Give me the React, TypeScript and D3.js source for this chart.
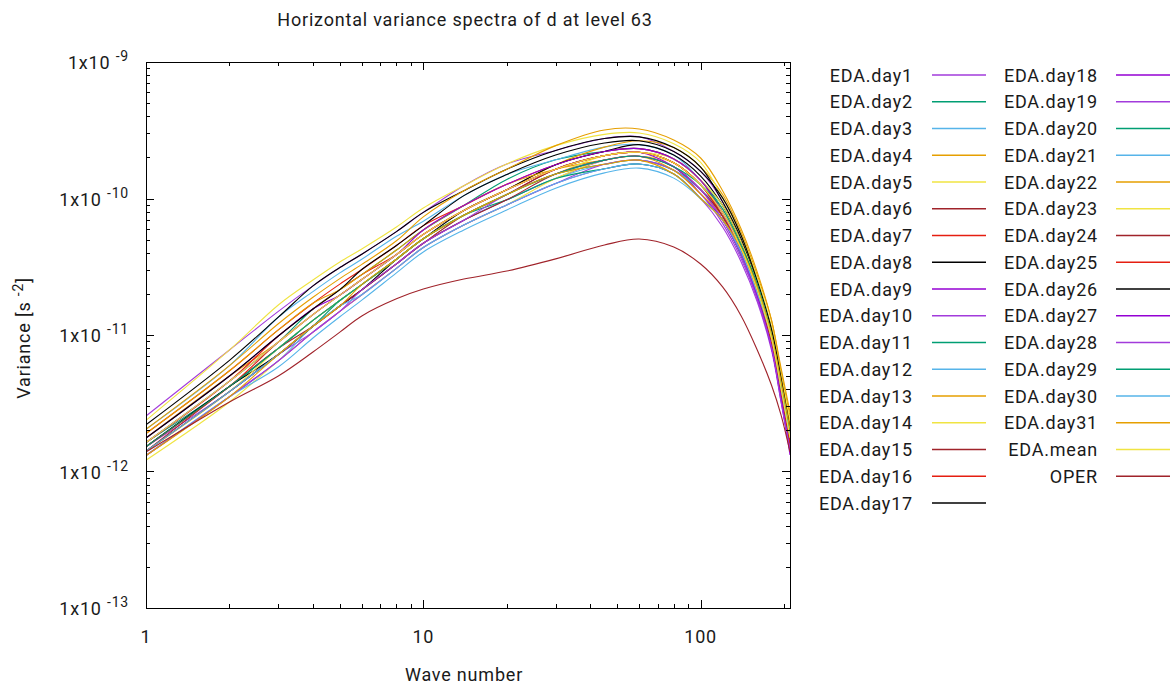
import { useEffect, useRef } from 'react';
import * as d3 from 'd3';

const waveNumbers = [1, 2, 3, 4, 5, 6, 8, 10, 14, 20, 30, 45, 60, 80, 100, 120, 140, 160, 180, 195, 210];

// variance values in units of 1e-12 s^-2, one entry per wave number above
const day1 = [2.55, 7.77, 14.9, 22.9, 31.2, 39.1, 57.2, 79.1, 124, 179, 225, 275, 283, 221, 158, 94.6, 47.9, 23.6, 10.0, 4.30, 1.90];
const day2 = [1.63, 4.59, 8.86, 15.5, 21.5, 27.7, 41.9, 58.8, 88.9, 138, 192, 221, 232, 195, 136, 83.8, 45.3, 21.4, 9.51, 4.06, 1.77];
const day3 = [2.04, 5.97, 13.5, 20.8, 28.5, 35.9, 52.9, 68.2, 105, 150, 192, 238, 248, 208, 136, 89.0, 47.9, 24.9, 11.1, 4.83, 2.19];
const day4 = [1.76, 5.01, 8.86, 14.1, 19.6, 25.5, 38.8, 54.6, 81.8, 116, 177, 238, 265, 236, 170, 107, 56.5, 27.5, 12.9, 5.41, 2.54];
const day5 = [2.37, 7.77, 16.6, 25.3, 34.3, 42.7, 61.8, 85.2, 124, 179, 244, 295, 302, 252, 184, 101, 53.5, 26.2, 11.6, 5.11, 2.36];
const day6 = [1.52, 4.20, 7.98, 12.8, 17.9, 23.4, 35.9, 50.7, 75.3, 107, 164, 206, 218, 183, 126, 78.8, 42.8, 20.3, 9.04, 3.84, 1.64];
const day7 = [1.90, 5.47, 10.9, 17.1, 23.6, 30.2, 45.3, 63.3, 88.9, 127, 177, 221, 232, 195, 136, 78.8, 42.8, 21.4, 9.51, 4.06, 1.64];
const day8 = [2.20, 6.52, 13.5, 22.9, 31.2, 39.1, 57.2, 79.1, 114, 164, 225, 275, 283, 236, 170, 94.6, 50.6, 23.6, 10.5, 4.56, 2.04];
const day9 = [1.41, 3.85, 7.19, 11.6, 16.3, 21.4, 33.2, 47.0, 69.3, 97.8, 140, 191, 204, 171, 108, 69.8, 38.3, 18.4, 8.17, 3.42, 1.53];
const day10 = [1.52, 3.85, 7.19, 10.5, 14.9, 19.7, 30.8, 43.7, 63.9, 89.8, 129, 165, 179, 151, 100, 61.8, 34.3, 17.5, 7.77, 3.23, 1.42];
const day11 = [1.63, 4.20, 7.98, 12.8, 17.9, 23.4, 35.9, 50.7, 75.3, 107, 151, 178, 191, 161, 116, 74.2, 40.5, 21.4, 9.51, 4.06, 1.77];
const day12 = [1.31, 3.53, 6.47, 11.6, 16.3, 21.4, 33.2, 47.0, 69.3, 97.8, 140, 178, 191, 161, 116, 78.8, 42.8, 22.5, 10.0, 4.56, 1.90];
const day13 = [2.04, 5.97, 12.1, 18.9, 25.9, 32.9, 49.0, 73.4, 114, 164, 244, 318, 323, 268, 198, 114, 59.8, 28.9, 12.9, 5.73, 2.73];
const day14 = [1.21, 3.23, 6.47, 10.5, 14.9, 19.7, 30.8, 43.7, 63.9, 89.8, 140, 191, 204, 183, 126, 83.8, 45.3, 23.6, 10.5, 4.83, 2.04];
const day15 = [1.41, 4.20, 7.98, 11.6, 16.3, 21.4, 33.2, 47.0, 75.3, 107, 164, 206, 218, 183, 126, 74.2, 40.5, 19.3, 8.59, 3.62, 1.53];
const day16 = [1.63, 4.59, 9.83, 15.5, 21.5, 27.7, 38.8, 54.6, 81.8, 116, 164, 206, 218, 183, 126, 74.2, 40.5, 20.3, 9.04, 3.62, 1.53];
const day17 = [1.52, 4.20, 7.19, 11.6, 16.3, 21.4, 35.9, 50.7, 81.8, 116, 177, 221, 248, 208, 146, 89.0, 47.9, 22.5, 10.0, 4.30, 1.77];
const day18 = [1.76, 5.01, 9.83, 15.5, 19.6, 25.5, 38.8, 54.6, 81.8, 116, 164, 206, 218, 171, 116, 69.8, 38.3, 19.3, 8.17, 3.42, 1.42];
const day19 = [1.31, 3.53, 6.47, 10.5, 14.9, 19.7, 30.8, 43.7, 63.9, 89.8, 129, 178, 191, 161, 108, 65.7, 36.2, 18.4, 8.17, 3.42, 1.42];
const day20 = [1.41, 3.85, 7.19, 11.6, 17.9, 23.4, 35.9, 50.7, 75.3, 97.8, 140, 165, 179, 151, 100, 69.8, 38.3, 20.3, 9.04, 3.84, 1.64];
const day21 = [1.31, 3.53, 5.83, 9.51, 13.6, 18.0, 28.5, 40.6, 58.8, 82.4, 119, 154, 167, 141, 100, 69.8, 40.5, 21.4, 10.0, 4.30, 1.77];
const day22 = [1.90, 5.47, 10.9, 17.1, 21.5, 27.7, 41.9, 58.8, 88.9, 127, 164, 191, 204, 161, 108, 74.2, 42.8, 22.5, 10.5, 4.56, 2.19];
const day23 = [1.41, 3.85, 7.98, 12.8, 17.9, 23.4, 35.9, 50.7, 75.3, 107, 151, 206, 218, 195, 136, 89.0, 47.9, 23.6, 10.5, 4.56, 1.90];
const day24 = [1.41, 3.85, 7.19, 11.6, 16.3, 21.4, 33.2, 47.0, 69.3, 97.8, 151, 191, 204, 171, 116, 74.2, 40.5, 20.3, 9.04, 3.84, 1.64];
const day25 = [1.52, 4.20, 8.86, 14.1, 19.6, 25.5, 38.8, 54.6, 81.8, 116, 164, 206, 218, 183, 126, 78.8, 42.8, 20.3, 9.04, 3.84, 1.64];
const day26 = [1.76, 5.01, 9.83, 15.5, 21.5, 30.2, 45.3, 63.3, 105, 150, 208, 255, 265, 221, 158, 101, 53.5, 24.9, 11.1, 4.83, 2.04];
const day27 = [1.63, 4.59, 8.86, 14.1, 19.6, 25.5, 38.8, 58.8, 88.9, 127, 177, 221, 232, 195, 136, 78.8, 40.5, 19.3, 8.17, 3.42, 1.32];
const day28 = [1.31, 3.53, 6.47, 10.5, 14.9, 21.4, 33.2, 47.0, 69.3, 107, 151, 191, 204, 171, 116, 69.8, 38.3, 18.4, 8.17, 3.23, 1.42];
const day29 = [1.52, 4.20, 7.98, 12.8, 17.9, 23.4, 35.9, 50.7, 75.3, 107, 151, 191, 204, 171, 126, 83.8, 45.3, 23.6, 10.0, 4.30, 1.90];
const day30 = [1.41, 3.85, 7.19, 11.6, 16.3, 19.7, 30.8, 43.7, 63.9, 89.8, 129, 165, 179, 151, 100, 69.8, 40.5, 20.3, 9.51, 4.06, 1.77];
const day31 = [1.31, 3.53, 7.19, 11.6, 16.3, 23.4, 35.9, 50.7, 75.3, 107, 151, 178, 191, 151, 100, 69.8, 42.8, 22.5, 10.0, 4.56, 2.04];
const edaMean = [1.63, 4.59, 8.86, 14.1, 19.6, 25.5, 38.8, 54.6, 81.8, 116, 164, 206, 218, 183, 126, 78.8, 42.8, 21.4, 9.51, 4.06, 1.77];
const oper = [1.39, 3.23, 5.01, 7.51, 10.5, 13.8, 18.4, 21.7, 25.7, 29.4, 36.1, 45.6, 50.5, 44.1, 33.1, 22.5, 13.8, 7.77, 4.30, 2.59, 1.39];

const seriesValues = [
  day1, day2, day3, day4, day5, day6, day7, day8, day9, day10, day11, day12, day13, day14, day15, day16,
  day17, day18, day19, day20, day21, day22, day23, day24, day25, day26, day27, day28, day29, day30, day31,
  edaMean, oper,
];
const seriesNames = [
  ...d3.range(1, 32).map(d => `EDA.day${d}`),
  'EDA.mean',
  'OPER',
];

// 9-colour cycle, day0 would take the first one
const palette = ['#9400d3', '#a23bdb', '#009e73', '#56b4e9', '#e69f00', '#f0e442', '#a0232a', '#e51e10', '#000000'];

const xMajorTicks = [1, 10, 100];
const yExponents = [-13, -12, -11, -10, -9];

export default function App() {
  const svgRef = useRef<SVGSVGElement>(null);

  useEffect(() => {
    if (!svgRef.current) return;
    const svg = d3.select(svgRef.current);
    svg.selectAll('*').remove();

    const left = 146, right = 790, top = 62, bottom = 608;
    const font = 'Roboto, sans-serif';
    const x = d3.scaleLog().domain([1, 210]).range([left, right]);
    const y = d3.scaleLog().domain([1e-13, 1e-9]).range([bottom, top]);
    const color = (i: number) => palette[(i + 1) % palette.length];

    const label = (sel: d3.Selection<SVGTextElement, unknown, null, undefined>) =>
      sel.style('font-family', font).style('font-size', '18px').style('letter-spacing', '0.8px').attr('fill', '#1a1a1a');

    svg.append('rect').attr('width', 1171).attr('height', 684).attr('fill', '#fff');

    svg.append('text')
      .attr('x', 465).attr('y', 26)
      .attr('text-anchor', 'middle')
      .call(label)
      .text('Horizontal variance spectra of d at level 63');

    svg.append('defs').append('clipPath').attr('id', 'plot-clip')
      .append('rect').attr('x', left).attr('y', top).attr('width', right - left).attr('height', bottom - top);

    const line = d3.line<number>()
      .x((_, i) => x(waveNumbers[i]))
      .y(d => y(d * 1e-12))
      .curve(d3.curveCatmullRom.alpha(0.5));

    const lines = svg.append('g').attr('clip-path', 'url(#plot-clip)');
    seriesValues.forEach((vals, i) => {
      lines.append('path')
        .attr('d', line(vals))
        .attr('fill', 'none')
        .attr('stroke', color(i))
        .attr('stroke-width', 1.1);
    });

    // ticks, mirrored on all four sides
    const axis = svg.append('g').attr('stroke', '#000').attr('stroke-width', 1);
    const xMinor: number[] = [];
    [1, 10, 100].forEach(dec => d3.range(2, 10).forEach(m => { if (dec * m < 210) xMinor.push(dec * m); }));
    const tick = (x1: number, y1: number, x2: number, y2: number) =>
      axis.append('line').attr('x1', x1).attr('y1', y1).attr('x2', x2).attr('y2', y2);

    xMajorTicks.forEach(v => {
      const px = Math.round(x(v)) + 0.5;
      tick(px, bottom, px, bottom - 8);
      tick(px, top, px, top + 8);
    });
    xMinor.forEach(v => {
      const px = Math.round(x(v)) + 0.5;
      tick(px, bottom, px, bottom - 4);
      tick(px, top, px, top + 4);
    });
    yExponents.forEach(e => {
      const py = Math.round(y(Math.pow(10, e))) + 0.5;
      tick(left, py, left + 8, py);
      tick(right, py, right - 8, py);
      if (e < -9) {
        d3.range(2, 10).forEach(m => {
          const pm = Math.round(y(m * Math.pow(10, e))) + 0.5;
          tick(left, pm, left + 4, pm);
          tick(right, pm, right - 4, pm);
        });
      }
    });

    svg.append('rect')
      .attr('x', left + 0.5).attr('y', top + 0.5)
      .attr('width', right - left).attr('height', bottom - top)
      .attr('fill', 'none').attr('stroke', '#000').attr('stroke-width', 1);

    // tick labels
    xMajorTicks.forEach(v => {
      svg.append('text')
        .attr('x', x(v)).attr('y', 643)
        .attr('text-anchor', 'middle')
        .call(label)
        .text(String(v));
    });
    yExponents.forEach(e => {
      const t = svg.append('text')
        .attr('x', 129).attr('y', y(Math.pow(10, e)) + 7)
        .attr('text-anchor', 'end')
        .call(label);
      t.append('tspan').text('1x10 ');
      t.append('tspan').attr('dy', -8).style('font-size', '14px').text(String(e));
    });

    // axis titles
    svg.append('text')
      .attr('x', 464).attr('y', 681)
      .attr('text-anchor', 'middle')
      .call(label)
      .text('Wave number');
    const yl = svg.append('text')
      .attr('transform', 'translate(30,338) rotate(-90)')
      .attr('text-anchor', 'middle')
      .call(label);
    yl.append('tspan').text('Variance [s ');
    yl.append('tspan').attr('dy', -7).style('font-size', '14px').text('-2');
    yl.append('tspan').attr('dy', 7).text(']');

    // legend in two columns
    seriesNames.forEach((name, i) => {
      const col = i < 17 ? 0 : 1;
      const row = col === 0 ? i : i - 17;
      const ly = 75 + row * 26.75;
      const textX = col === 0 ? 913 : 1098;
      const lineX = col === 0 ? 932 : 1116;
      svg.append('text')
        .attr('x', textX).attr('y', ly + 6.5)
        .attr('text-anchor', 'end')
        .call(label)
        .text(name);
      svg.append('line')
        .attr('x1', lineX).attr('x2', lineX + 54)
        .attr('y1', ly).attr('y2', ly)
        .attr('stroke', color(i)).attr('stroke-width', 1.6);
    });
  }, []);

  return (
    <svg
      ref={svgRef}
      width={1171}
      height={684}
      style={{ position: 'absolute', left: 0, top: 0 }}
    />
  );
}
